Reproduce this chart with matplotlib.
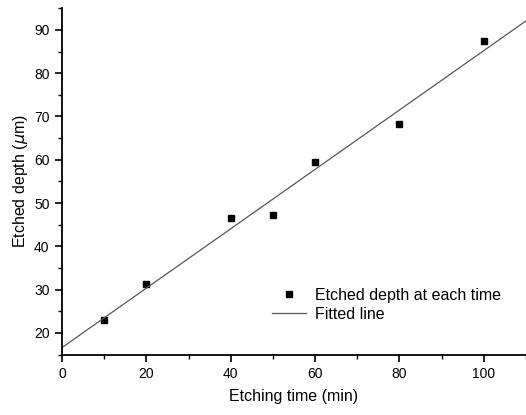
import matplotlib.pyplot as plt
import numpy as np

# etching time (min) and etched depth (um)
time_min = np.array([10, 20, 40, 50, 60, 80, 100])
depth_um = np.array([23.0, 31.3, 46.5, 47.3, 59.5, 68.2, 87.5])

plt.rcParams['font.family'] = ['Liberation Sans', 'DejaVu Sans']


def main():
    fig = plt.figure(figsize=(5.26, 4.15), dpi=100)
    ax = fig.add_axes([0.1179, 0.1455, 0.882, 0.8347])

    slope, intercept = np.polyfit(time_min, depth_um, 1)
    x_fit = np.array([0, 110])

    ax.plot(time_min, depth_um, 's', color='black', markersize=5,
            label="Etched depth at each time")
    ax.plot(x_fit, slope * x_fit + intercept, color='#555555', linewidth=0.9,
            label="Fitted line")

    ax.set_xlim(0, 109.4)
    ax.set_ylim(15, 95)
    ax.set_xticks(np.arange(0, 101, 20))
    ax.set_xticks(np.arange(10, 111, 20), minor=True)
    ax.set_yticks(np.arange(20, 91, 10))
    ax.set_yticks(np.arange(15, 96, 10), minor=True)

    for side in ['top', 'right']:
        ax.spines[side].set_visible(False)
    for side in ['left', 'bottom']:
        ax.spines[side].set_linewidth(1.3)

    ax.tick_params(which='major', direction='out', length=5, width=1.2,
                   labelsize=10, pad=4)
    ax.tick_params(which='minor', direction='out', length=3, width=1.0)

    ax.set_xlabel("Etching time (min)", fontsize=11.5, labelpad=6)
    ax.set_ylabel(r"Etched depth ($\mu$m)", fontsize=11.5, labelpad=3)

    ax.legend(loc='upper left', bbox_to_anchor=(272 / 526, 1 - 288 / 415),
              bbox_transform=fig.transFigure, borderpad=0, borderaxespad=0,
              frameon=False, fontsize=11.5, handlelength=2.1,
              handletextpad=0.6, labelspacing=0.25)

    fig.savefig("out.png", dpi=100)


if __name__ == '__main__':
    main()
